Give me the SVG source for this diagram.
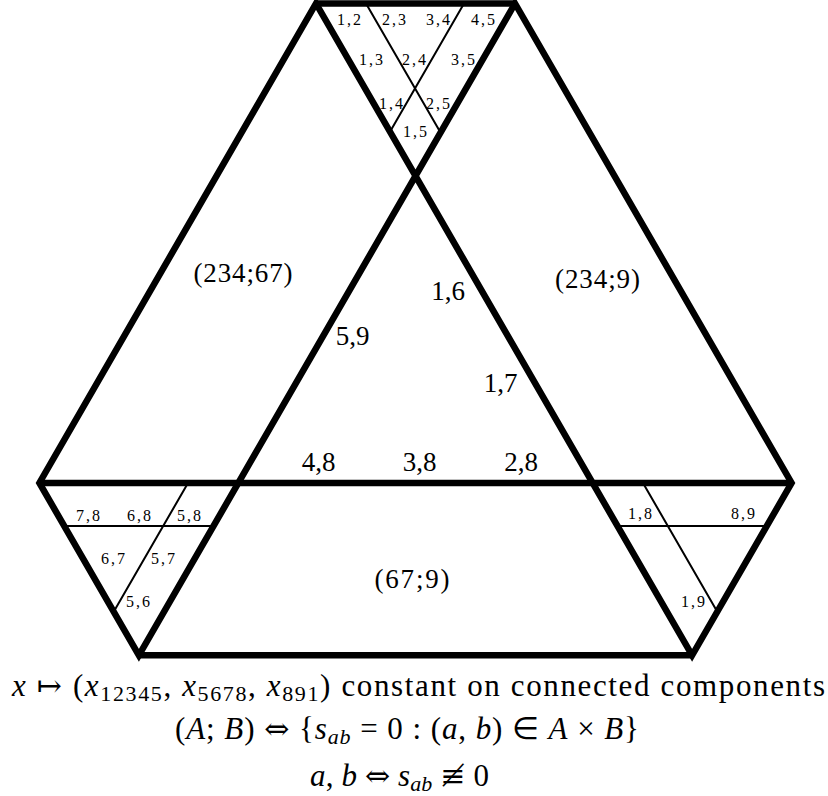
<svg xmlns="http://www.w3.org/2000/svg" width="828" height="796" viewBox="0 0 828 796">
<style>
.thick{fill:none;stroke:#000;stroke-width:6.5;stroke-linejoin:miter;stroke-miterlimit:10}
.thin{fill:none;stroke:#000;stroke-width:2}
text{font-family:'Liberation Serif','Times New Roman',serif;fill:#000}
.big{font-size:27px;text-anchor:middle}
.sm{font-size:16px;text-anchor:middle}
.it{font-style:italic}
.eq{font-size:31px}
.sub{font-size:22px}
.sym{font-family:'DejaVu Serif','DejaVu Sans',serif;font-size:30px}
</style>
<rect width="828" height="796" fill="#fff"/>
<g id="frame">
<path class="thick" d="M138.9,655.3 L39.4,483 L316,3.5 L692.1,655.3 L791.6,483 L515,3.5 Z"/>
<path class="thick" d="M316,3.5 H515 M39.4,483 H791.6 M138.9,655.3 H692.1"/>
</g>
<g id="subdivisions">
<path class="thin" d="M366,3.5 L440.5,132.5 M464,3.5 L390,131.7"/>
<path class="thin" d="M64.2,526 H213.6 M188,483 L113.7,611.7"/>
<path class="thin" d="M617.4,526 H766.8 M643,483 L717.3,611.7"/>
</g>
<g id="top-labels" class="sm">
<text x="349" y="25" textLength="24" lengthAdjust="spacing">1,2</text>
<text x="394" y="25" textLength="24" lengthAdjust="spacing">2,3</text>
<text x="438" y="25" textLength="24" lengthAdjust="spacing">3,4</text>
<text x="483" y="25" textLength="24" lengthAdjust="spacing">4,5</text>
<text x="371" y="65" textLength="24" lengthAdjust="spacing">1,3</text>
<text x="414" y="65" textLength="24" lengthAdjust="spacing">2,4</text>
<text x="463" y="65" textLength="24" lengthAdjust="spacing">3,5</text>
<text x="391" y="109" textLength="24" lengthAdjust="spacing">1,4</text>
<text x="438" y="109" textLength="24" lengthAdjust="spacing">2,5</text>
<text x="415" y="137" textLength="24" lengthAdjust="spacing">1,5</text>
</g>
<g id="left-labels" class="sm">
<text x="88" y="520.5" textLength="24" lengthAdjust="spacing">7,8</text>
<text x="139" y="520.5" textLength="24" lengthAdjust="spacing">6,8</text>
<text x="189" y="520.5" textLength="24" lengthAdjust="spacing">5,8</text>
<text x="113" y="564" textLength="24" lengthAdjust="spacing">6,7</text>
<text x="163" y="564" textLength="24" lengthAdjust="spacing">5,7</text>
<text x="138" y="606.5" textLength="24" lengthAdjust="spacing">5,6</text>
</g>
<g id="right-labels" class="sm">
<text x="640" y="518.5" textLength="24" lengthAdjust="spacing">1,8</text>
<text x="743" y="518.5" textLength="24" lengthAdjust="spacing">8,9</text>
<text x="693" y="607" textLength="24" lengthAdjust="spacing">1,9</text>
</g>
<g id="region-labels" class="big">
<text x="243" y="282" textLength="99" lengthAdjust="spacing">(234;67)</text>
<text x="597.5" y="288" textLength="85" lengthAdjust="spacing">(234;9)</text>
<text x="412" y="588" textLength="75" lengthAdjust="spacing">(67;9)</text>
<text x="448" y="300">1,6</text>
<text x="352.5" y="345">5,9</text>
<text x="500.5" y="392">1,7</text>
<text x="318.7" y="471">4,8</text>
<text x="419.5" y="471">3,8</text>
<text x="521" y="471">2,8</text>
</g>
<g id="caption" class="eq">
<text x="12" y="696" textLength="813" lengthAdjust="spacing"><tspan class="it">x</tspan> <tspan class="sym">↦</tspan> (<tspan class="it">x</tspan><tspan class="sub" dy="5">12345</tspan><tspan dy="-5">, </tspan><tspan class="it">x</tspan><tspan class="sub" dy="5">5678</tspan><tspan dy="-5">, </tspan><tspan class="it">x</tspan><tspan class="sub" dy="5">891</tspan><tspan dy="-5">) constant on connected components</tspan></text>
<text x="175" y="739" textLength="464" lengthAdjust="spacing">(<tspan class="it">A</tspan>; <tspan class="it">B</tspan>) <tspan class="sym">⇔</tspan> {<tspan class="it">s</tspan><tspan class="sub it" dy="5">ab</tspan><tspan dy="-5"> = 0 :  (</tspan><tspan class="it">a</tspan>, <tspan class="it">b</tspan>) ∈ <tspan class="it">A</tspan> × <tspan class="it">B</tspan>}</text>
<text x="310" y="786" textLength="179" lengthAdjust="spacing"><tspan class="it">a</tspan>, <tspan class="it">b</tspan> <tspan class="sym">⇔</tspan> <tspan class="it">s</tspan><tspan class="sub it" dy="5">ab</tspan><tspan dy="-5"> </tspan><tspan class="sym">≢</tspan> 0</text>
</g>
</svg>
